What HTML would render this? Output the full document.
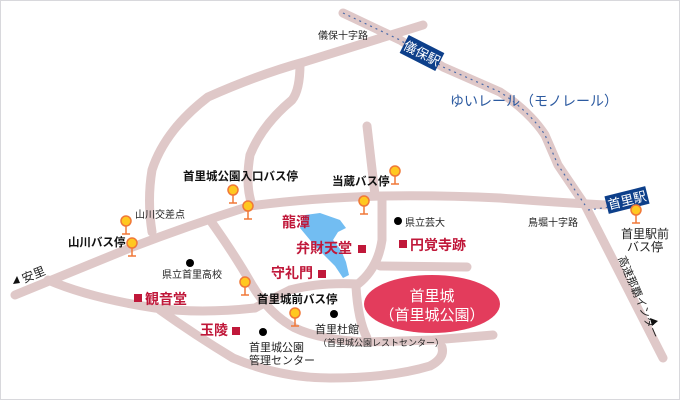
<!DOCTYPE html>
<html><head><meta charset="utf-8"><style>
html,body{margin:0;padding:0;background:#fff}
svg{display:block;font-family:"Liberation Sans","Noto Sans CJK JP",sans-serif}
</style></head><body>
<svg width="680" height="400" viewBox="0 0 680 400" xmlns="http://www.w3.org/2000/svg">
<rect x="0.5" y="0.5" width="679" height="399" fill="#fff" stroke="#d8d8dc"/>
<g fill="none" stroke="#dfc8c8" stroke-width="9" stroke-linecap="round" stroke-linejoin="round">
<path d="M15,295 L130,248 Q190,225 250,206 Q310,198 380,196 Q440,195 500,198 Q550,202 605,205"/>
<path d="M423,25 L304,62 Q260,74 208,97 Q165,130 152,170 Q147,200 152,232"/>
<path d="M300,64 Q300,90 292,100 Q262,125 250,155 Q245,185 252,205"/>
<path d="M367,126 L375,195"/>
<path d="M343,13 L400,40 L443,67 L500,92 Q530,112 545,135 L558,165 L585,205 L663,358"/>
<path d="M210,220 Q235,255 252,285 Q270,315 295,328 Q320,340 367,342 L433,340 L493,335"/>
<path d="M382,197 L382,240 Q378,268 358,284 Q320,282 290,290 Q270,300 255,308 Q200,314 155,308 Q90,298 48,280"/>
<path d="M356,287 Q358,320 367,338"/>
<path d="M380,266 L467,267"/>
<path d="M160,310 Q195,335 233,358 Q280,378 330,378 Q390,378 430,366 Q445,358 442,347"/>
</g>
<path d="M343,13 L400,40 L443,67 L500,92 Q530,112 545,135 L558,165 L585,205 M588,210 L610,207" fill="none" stroke="#4a6aa8" stroke-width="1.2" stroke-dasharray="2,4"/>
<path d="M305,215 L320,213 L340,220 L346,228 L338,232 L333,240 L341,250 L346,262 L349,275 L343,278 L335,266 L325,256 L315,246 L300,228 Z" fill="#72bdf2"/>
<ellipse cx="432" cy="304" rx="68" ry="29" fill="#e33c5c"/>
<text x="432" y="301" fill="#fff" font-size="15" text-anchor="middle">首里城</text>
<text x="432" y="320" fill="#fff" font-size="15" text-anchor="middle">（首里城公園）</text>
<g transform="translate(422,53) rotate(27)"><rect x="-20" y="-10" width="40" height="20" fill="#0d3f8a"/><text x="0" y="5" fill="#fff" font-size="13" text-anchor="middle">儀保駅</text></g>
<g transform="translate(627,200) rotate(-14)"><rect x="-21" y="-9" width="42" height="18" fill="#0d3f8a"/><text x="0" y="5" fill="#fff" font-size="13" text-anchor="middle">首里駅</text></g>
<text x="450" y="106" fill="#2c5aa0" font-size="14">ゆいレール（モノレール）</text>
<g font-size="10" fill="#222">
<text x="318" y="39">儀保十字路</text>
<text x="528" y="226">鳥堀十字路</text>
<text x="135" y="218">山川交差点</text>
<text x="162" y="278">県立首里高校</text>
<text x="405" y="226">県立芸大</text>
<text x="315" y="333" font-size="11">首里杜館</text>
<text x="318" y="346" font-size="9">（首里城公園レストセンター）</text>
<text x="249" y="351" font-size="11">首里城公園</text>
<text x="249" y="364" font-size="11">管理センター</text>
<text x="645" y="238" font-size="12" text-anchor="middle">首里駅前</text>
<text x="645" y="251" font-size="12" text-anchor="middle">バス停</text>
<text transform="translate(618,258) rotate(67)" font-size="11">高速那覇インター</text>
<text transform="translate(24,283) rotate(-22)" font-size="12">安里</text>
</g>
<path d="M13,284 l4,-8 l3,7 z" fill="#111"/>
<path d="M650,318 l8,3 l-6,5 z" fill="#111"/>
<g fill="#111" font-size="11.5" font-weight="bold">
<text x="183" y="180">首里城公園入口バス停</text>
<text x="332" y="185">当蔵バス停</text>
<text x="68" y="246">山川バス停</text>
<text x="257" y="303">首里城前バス停</text>
</g>
<g fill="#000"><circle cx="398" cy="221" r="4"/><circle cx="190" cy="263" r="4"/><circle cx="334" cy="314" r="4"/><circle cx="263" cy="332" r="4"/></g>
<g fill="#c0183a" font-size="14" font-weight="bold">
<text x="282" y="227">龍潭</text>
<text x="296" y="253">弁財天堂</text><rect x="358" y="245" width="8" height="8"/>
<text x="271" y="278">守礼門</text><rect x="318" y="270" width="8" height="8"/>
<rect x="399" y="240" width="8" height="8"/><text x="410" y="250">円覚寺跡</text>
<rect x="134" y="294" width="8" height="8"/><text x="145" y="304">観音堂</text>
<text x="200" y="335">玉陵</text><rect x="232" y="327" width="8" height="8"/>
</g>
<g stroke="#f07838" stroke-width="1.5" fill="#ffc820">
<g transform="translate(233,190)"><path d="M0,4 V13 M-4,13 H4" fill="none"/><circle r="5"/></g>
<g transform="translate(248,206)"><path d="M0,4 V13 M-4,13 H4" fill="none"/><circle r="5"/></g>
<g transform="translate(126,221)"><path d="M0,4 V13 M-4,13 H4" fill="none"/><circle r="5"/></g>
<g transform="translate(132,243)"><path d="M0,4 V13 M-4,13 H4" fill="none"/><circle r="5"/></g>
<g transform="translate(364,201)"><path d="M0,4 V13 M-4,13 H4" fill="none"/><circle r="5"/></g>
<g transform="translate(395,171)"><path d="M0,4 V13 M-4,13 H4" fill="none"/><circle r="5"/></g>
<g transform="translate(245,282)"><path d="M0,4 V13 M-4,13 H4" fill="none"/><circle r="5"/></g>
<g transform="translate(295,313)"><path d="M0,4 V13 M-4,13 H4" fill="none"/><circle r="5"/></g>
<g transform="translate(636,210)"><path d="M0,4 V13 M-4,13 H4" fill="none"/><circle r="5"/></g>
</g>
</svg>
</body></html>
